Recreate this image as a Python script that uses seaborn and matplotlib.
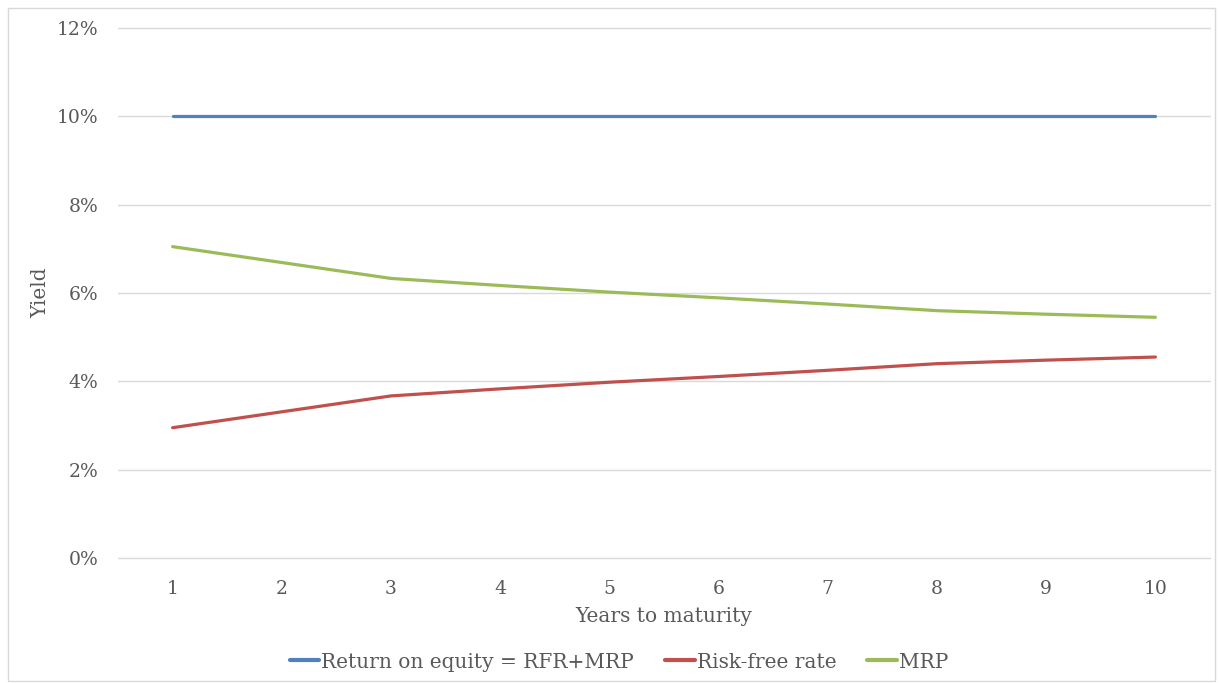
import numpy as np
import pandas as pd
import matplotlib.pyplot as plt
import seaborn as sns
from matplotlib.patches import Rectangle
from matplotlib.ticker import FuncFormatter

sns.set_theme(style="white")
plt.rcParams["font.family"] = ["DejaVu Serif"]

# Values (percent)
years = [1, 2, 3, 4, 5, 6, 7, 8, 9, 10]
roe = [10.0, 10.0, 10.0, 10.0, 10.0, 10.0, 10.0, 10.0, 10.0, 10.0]
rfr = [2.95, 3.31, 3.67, 3.83, 3.98, 4.11, 4.25, 4.40, 4.48, 4.55]
mrp = [7.05, 6.69, 6.33, 6.17, 6.02, 5.89, 5.75, 5.60, 5.52, 5.45]
series_names = ["Return on equity = RFR+MRP", "Risk-free rate", "MRP"]
colors = ["#4F81BD", "#C0504D", "#9BBB59"]

df = pd.DataFrame({
    "Years": years * 3,
    "Yield": np.concatenate([roe, rfr, mrp]) / 100.0,
    "Series": np.repeat(series_names, len(years)),
})

fig = plt.figure(figsize=(12.19, 6.83), dpi=100)
ax = fig.add_axes([118 / 1219, 1 - 558 / 683, (1210 - 118) / 1219, (558 - 28) / 683])

sns.lineplot(data=df, x="Years", y="Yield", hue="Series", hue_order=series_names,
             palette=colors, linewidth=2.3, ax=ax, legend=False)

ax.set_xlim(0.5, 10.5)
ax.set_ylim(0, 0.12)
ax.set_xticks(years)
ax.set_yticks(np.arange(0, 0.121, 0.02))
ax.yaxis.set_major_formatter(FuncFormatter(lambda v, p: f"{v * 100:.0f}%"))
ax.grid(axis="y", color="#d9d9d9", linewidth=1)
ax.grid(axis="x", visible=False)
for gl in ax.get_ygridlines():
    gl.set_clip_on(False)
ax.set_axisbelow(True)
for s in ax.spines.values():
    s.set_visible(False)
ax.tick_params(axis="both", length=0, colors="#595959", labelsize=13.5)
ax.tick_params(axis="y", pad=14)
ax.tick_params(axis="x", pad=16)
ax.set_xlabel("Years to maturity", fontsize=14.5, color="#595959", labelpad=6)
ax.set_ylabel("Yield", fontsize=14.5, color="#595959", labelpad=5)

handles = [plt.Line2D([], [], color=c, linewidth=3) for c in colors]
fig.legend(handles, series_names, loc="center left", bbox_to_anchor=(272 / 1219, 1 - 662 / 683),
           ncol=3, frameon=False, fontsize=14.5, labelcolor="#595959",
           handlelength=1.45, handletextpad=0.1, columnspacing=1.55)

# chart border
fig.patches.append(Rectangle((8 / 1219, 2 / 683), 1207 / 1219, 673 / 683, transform=fig.transFigure,
                             fill=False, edgecolor="#d9d9d9", linewidth=1))

fig.savefig("out.png", dpi=100)
